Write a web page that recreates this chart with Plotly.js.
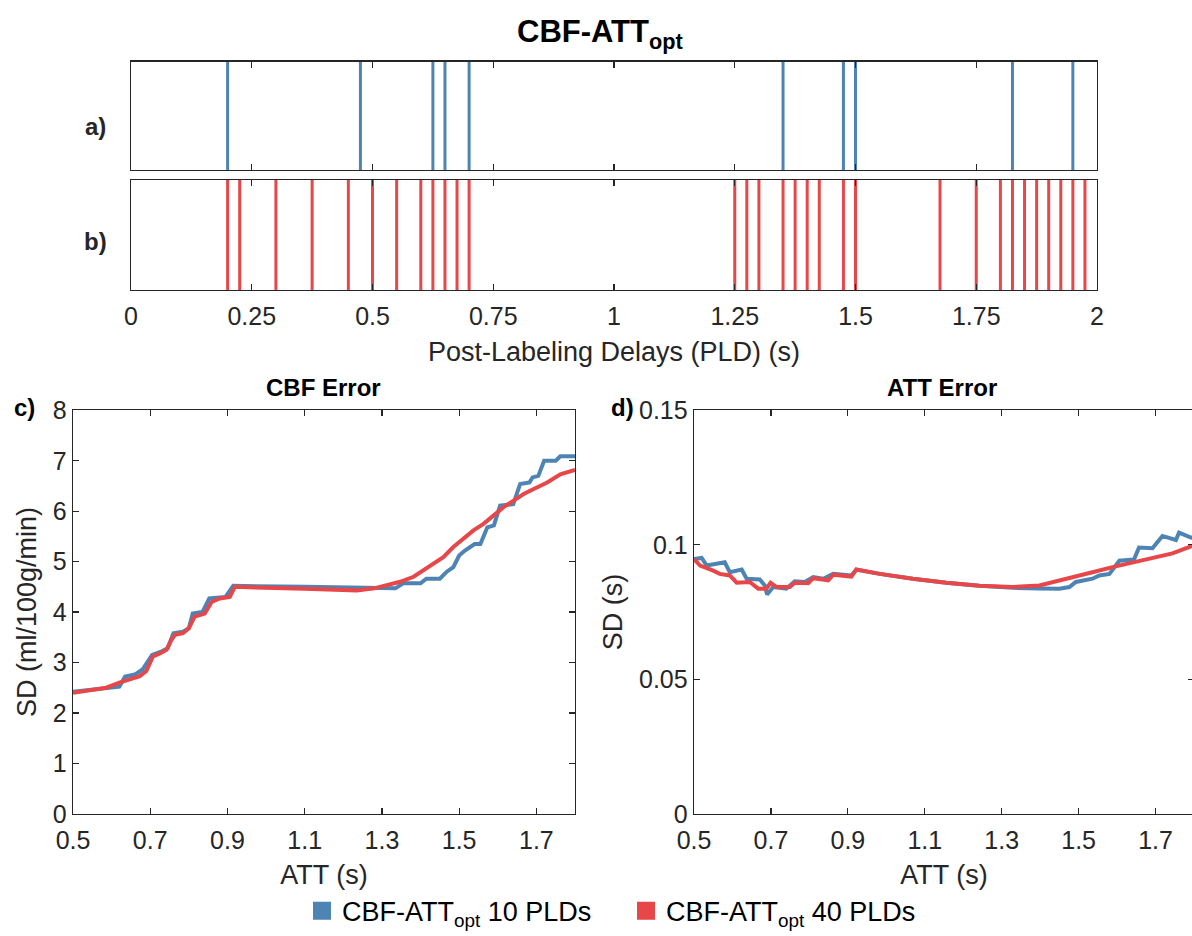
<!DOCTYPE html>
<html>
<head>
<meta charset="utf-8">
<script src="https://cdn.plot.ly/plotly-3.0.1.min.js"></script>
<style>
html,body{margin:0;padding:0;overflow:hidden;background:#fff;}
#plot{width:1196px;height:936px;}
</style>
</head>
<body>
<div id="plot"></div>
<script>
// PLD schedules (s)
const pld10 = [0.2, 0.475, 0.625, 0.65, 0.7, 1.35, 1.475, 1.5, 1.825, 1.95];
const pld40 = [0.2, 0.225, 0.3, 0.375, 0.45, 0.5, 0.55, 0.6, 0.625, 0.65, 0.675, 0.7,
               1.25, 1.275, 1.3, 1.35, 1.375, 1.4, 1.425, 1.475, 1.5,
               1.675, 1.75, 1.8, 1.825, 1.85, 1.875, 1.9, 1.925, 1.95, 1.975];
const pldTicks = [0, 0.25, 0.5, 0.75, 1, 1.25, 1.5, 1.75, 2];

// CBF error (SD, ml/100g/min) vs ATT (s)
const cbf10_att = [0.50,0.55,0.60,0.62,0.635,0.66,0.68,0.705,0.73,0.745,0.76,0.785,0.80,0.81,0.835,0.853,0.895,0.915,1.10,1.25,1.335,1.355,1.40,1.415,1.45,1.468,1.485,1.50,1.515,1.54,1.555,1.573,1.59,1.606,1.64,1.658,1.682,1.69,1.705,1.72,1.75,1.762,1.80];
const cbf10_sd  = [2.42,2.46,2.49,2.52,2.72,2.76,2.86,3.15,3.22,3.28,3.58,3.61,3.68,3.97,4.00,4.27,4.30,4.52,4.50,4.48,4.47,4.57,4.57,4.66,4.66,4.80,4.89,5.12,5.22,5.35,5.35,5.68,5.72,6.11,6.14,6.54,6.57,6.67,6.70,7.00,7.00,7.09,7.09];
const cbf40_att = [0.50,0.586,0.62,0.647,0.673,0.69,0.707,0.725,0.742,0.755,0.764,0.785,0.80,0.815,0.841,0.859,0.88,0.906,0.919,1.10,1.235,1.28,1.313,1.347,1.382,1.408,1.433,1.459,1.485,1.511,1.537,1.563,1.589,1.615,1.641,1.667,1.693,1.728,1.762,1.80];
const cbf40_sd  = [2.40,2.50,2.60,2.66,2.73,2.83,3.12,3.18,3.25,3.45,3.55,3.58,3.68,3.91,3.97,4.20,4.27,4.30,4.50,4.46,4.43,4.47,4.53,4.60,4.70,4.83,4.96,5.09,5.29,5.45,5.62,5.75,5.91,6.08,6.21,6.34,6.44,6.57,6.73,6.82];

// ATT error (SD, s) vs ATT (s)
const att10_att = [0.50,0.52,0.533,0.58,0.593,0.624,0.637,0.671,0.684,0.69,0.706,0.74,0.762,0.788,0.81,0.836,0.862,0.909,0.922,0.983,1.069,1.156,1.242,1.329,1.398,1.45,1.476,1.493,1.536,1.554,1.58,1.606,1.644,1.657,1.692,1.718,1.753,1.761,1.792,1.80];
const att10_sd  = [0.0947,0.0951,0.0923,0.0935,0.0898,0.0908,0.0874,0.0871,0.0849,0.0815,0.0843,0.0837,0.0864,0.0862,0.0880,0.0874,0.0892,0.0886,0.0908,0.0892,0.0874,0.0859,0.0848,0.0840,0.0838,0.0837,0.0843,0.0862,0.0874,0.0886,0.0892,0.0941,0.0945,0.0990,0.0987,0.1033,0.1018,0.1045,0.1027,0.1025];
const att40_att = [0.50,0.516,0.55,0.567,0.593,0.611,0.645,0.667,0.688,0.699,0.715,0.749,0.762,0.797,0.81,0.849,0.862,0.909,0.922,0.983,1.069,1.156,1.242,1.329,1.398,1.432,1.484,1.536,1.588,1.64,1.692,1.744,1.792,1.80];
const att40_sd  = [0.0947,0.0923,0.0904,0.0892,0.0886,0.0859,0.0862,0.0837,0.0837,0.0859,0.0843,0.0843,0.0859,0.0857,0.0876,0.0868,0.0889,0.0882,0.0908,0.0892,0.0874,0.0859,0.0848,0.0843,0.0849,0.0862,0.0880,0.0898,0.0917,0.0935,0.0950,0.0968,0.0994,0.0998];

const seriesNames = ['CBF-ATT<sub>opt</sub> 10 PLDs', 'CBF-ATT<sub>opt</sub> 40 PLDs'];
const BLUE = '#4e84b3';
const RED = '#e8474a';
const INK = '#262626';
const FONT = 'Liberation Sans, Arial, Helvetica, sans-serif';

const W = 1196, H = 936;
const fx = p => p / W;
const fy = p => 1 - p / H;

function vlines(vals) {
  const x = [], y = [];
  vals.forEach(v => { x.push(v, v, null); y.push(0, 1, null); });
  return {x, y};
}
const v10 = vlines(pld10), v40 = vlines(pld40);

const traces = [
  {x: v10.x, y: v10.y, xaxis: 'x', yaxis: 'y', mode: 'lines', line: {color: BLUE, width: 3}, showlegend: false, hoverinfo: 'skip'},
  {x: v40.x, y: v40.y, xaxis: 'x2', yaxis: 'y2', mode: 'lines', line: {color: RED, width: 3}, showlegend: false, hoverinfo: 'skip'},
  {x: cbf10_att, y: cbf10_sd, xaxis: 'x3', yaxis: 'y3', mode: 'lines', line: {color: BLUE, width: 4}, showlegend: false},
  {x: cbf40_att, y: cbf40_sd, xaxis: 'x3', yaxis: 'y3', mode: 'lines', line: {color: RED, width: 4}, showlegend: false},
  {x: att10_att, y: att10_sd, xaxis: 'x4', yaxis: 'y4', mode: 'lines', line: {color: BLUE, width: 4}, showlegend: false},
  {x: att40_att, y: att40_sd, xaxis: 'x4', yaxis: 'y4', mode: 'lines', line: {color: RED, width: 4}, showlegend: false},
  {x: [null], y: [null], xaxis: 'x3', yaxis: 'y3', mode: 'markers', name: seriesNames[0], marker: {symbol: 'square', size: 16, color: BLUE, line: {color: BLUE, width: 2}}},
  {x: [null], y: [null], xaxis: 'x3', yaxis: 'y3', mode: 'markers', name: seriesNames[1], marker: {symbol: 'square', size: 16, color: RED, line: {color: RED, width: 2}}}
];

const TICK = 25, TITLE = 27;
const axBase = {showline: true, linecolor: INK, linewidth: 1.3, mirror: 'ticks', ticks: 'inside', ticklen: 6, tickwidth: 1.3, tickcolor: INK, showgrid: false, zeroline: false, tickfont: {family: FONT, size: TICK, color: INK}};

function label(text, x, y, size, color) {
  return {text: text, xref: 'paper', yref: 'paper', x: fx(x), y: fy(y), xanchor: 'center', yanchor: 'middle', showarrow: false, font: {family: FONT, size: size, color: color}};
}

const layout = {
  width: W, height: H,
  margin: {l: 0, r: 0, t: 0, b: 0},
  paper_bgcolor: '#fff', plot_bgcolor: '#fff',
  font: {family: FONT, color: INK},
  showlegend: true,
  legend: {orientation: 'h', x: fx(302), xanchor: 'left', y: fy(917), yanchor: 'middle', font: {family: FONT, size: 27, color: '#000'}, itemwidth: 30, entrywidth: 279, traceorder: 'normal', bgcolor: 'rgba(0,0,0,0)'},
  xaxis: Object.assign({}, axBase, {domain: [fx(131), fx(1097)], anchor: 'y', range: [0, 2], tickvals: pldTicks, showticklabels: false}),
  yaxis: Object.assign({}, axBase, {domain: [fy(171), fy(62)], anchor: 'x', range: [0, 1], ticks: '', showticklabels: false}),
  xaxis2: Object.assign({}, axBase, {domain: [fx(131), fx(1097)], anchor: 'y2', range: [0, 2], tickvals: pldTicks, ticklabelstandoff: 4,
    title: {text: 'Post-Labeling Delays (PLD) (s)', font: {family: FONT, size: TITLE, color: INK}, standoff: 12}}),
  yaxis2: Object.assign({}, axBase, {domain: [fy(292), fy(181)], anchor: 'x2', range: [0, 1], ticks: '', showticklabels: false}),
  xaxis3: Object.assign({}, axBase, {domain: [fx(73), fx(575)], anchor: 'y3', range: [0.5, 1.8], tick0: 0.5, dtick: 0.2, ticklabelstandoff: 4,
    title: {text: 'ATT (s)', font: {family: FONT, size: TITLE, color: INK}, standoff: 12}}),
  yaxis3: Object.assign({}, axBase, {domain: [fy(819), fy(413)], anchor: 'x3', range: [0, 8], dtick: 1,
    title: {text: 'SD (ml/100g/min)', font: {family: FONT, size: TITLE, color: INK}, standoff: 8}}),
  xaxis4: Object.assign({}, axBase, {domain: [fx(694), fx(1194)], anchor: 'y4', range: [0.5, 1.8], tick0: 0.5, dtick: 0.2, ticklabelstandoff: 4,
    title: {text: 'ATT (s)', font: {family: FONT, size: TITLE, color: INK}, standoff: 12}}),
  yaxis4: Object.assign({}, axBase, {domain: [fy(819), fy(413)], anchor: 'x4', range: [0, 0.15], dtick: 0.05,
    title: {text: 'SD (s)', font: {family: FONT, size: TITLE, color: INK}, standoff: 8}}),
  annotations: [
    label('<b>CBF-ATT<sub>opt</sub></b>', 600, 34, 31, '#000'),
    label('<b>a)</b>', 95, 127, 24, INK),
    label('<b>b)</b>', 95, 243, 24, INK),
    label('<b>c)</b>', 24, 410, 24, '#000'),
    label('<b>d)</b>', 622, 410, 24, '#000'),
    label('<b>CBF Error</b>', 323, 390, 24, '#000'),
    label('<b>ATT Error</b>', 942, 390, 24, '#000')
  ]
};

Plotly.newPlot('plot', traces, layout, {staticPlot: true, displayModeBar: false});
</script>
</body>
</html>
